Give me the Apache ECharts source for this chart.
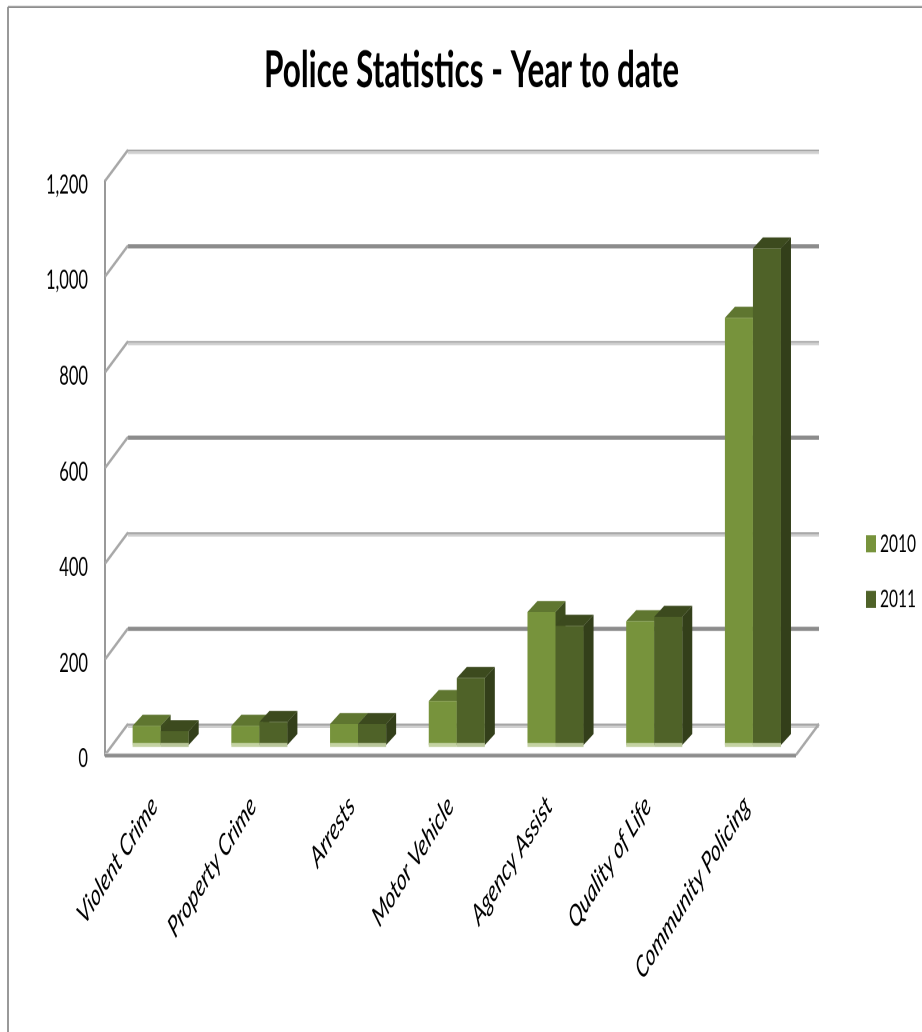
<!DOCTYPE html>
<html>
<head>
<meta charset="utf-8">
<style>
html,body{margin:0;padding:0;background:#fff;overflow:hidden;width:922px;height:1032px}
#c{width:922px;height:645px;transform:scaleY(1.6);transform-origin:0 0}
</style>
<script src="https://cdn.jsdelivr.net/npm/echarts@6/dist/echarts.min.js"></script>
</head>
<body>
<div id="c"></div>
<script>
const categories = ['Violent Crime','Property Crime','Arrests','Motor Vehicle','Agency Assist','Quality of Life','Community Policing'];
const values2010 = [40,40,44,92,278,259,893];
const values2011 = [29,48,44,140,249,268,1038];
const gridTicks = [0,200,400,600,800,1000,1200];
const K = 1.6;                 // vertical stretch of the picture
const sy = p => p / K;
const FONT = 'Lato';
const WALL_DX = 23, WALL_DY = sy(31);
const BAR_DX = 10, BAR_DY = sy(11), BAR_LIFT = sy(10);

const chart = echarts.init(document.getElementById('c'), null, {renderer:'canvas', devicePixelRatio:2});

function wallItem(params, api){
  const cs = params.coordSys;
  const v = api.value(0);
  const y = api.coord([0, v])[1];
  const x0 = cs.x, x1 = cs.x + cs.width;
  const dark = (v === 200 || v === 600 || v === 1000);
  const children = [
    {type:'line', shape:{x1:x0+WALL_DX, y1:y-WALL_DY+0.4, x2:x1+WALL_DX, y2:y-WALL_DY+0.4},
      style:{stroke:dark?'#8c8c8c':'#a6a6a6', lineWidth:dark?2.6:1.3}},
    {type:'line', shape:{x1:x0, y1:y, x2:x0+WALL_DX, y2:y-WALL_DY},
      style:{stroke:'#a8a8a8', lineWidth:2}}
  ];
  if(!dark){
    children.push({type:'line', shape:{x1:x0+WALL_DX, y1:y-WALL_DY+1.7, x2:x1+WALL_DX, y2:y-WALL_DY+1.7},
      style:{stroke:'#d0d0d0', lineWidth:1.5}});
  }
  if(v === 0){
    children.push({type:'line', shape:{x1:x1, y1:y, x2:x1+WALL_DX, y2:y-WALL_DY},
      style:{stroke:'#a8a8a8', lineWidth:2}});
    children.push({type:'line', shape:{x1:x0, y1:y-0.9, x2:x1, y2:y-0.9},
      style:{stroke:'#e0e0e0', lineWidth:0.8}});
    children.push({type:'line', shape:{x1:x0, y1:y+0.4, x2:x1, y2:y+0.4},
      style:{stroke:'#8c8c8c', lineWidth:2.2}});
  }
  return {type:'group', children};
}

function barRenderer(seriesSlot, front, top, side, glow){
  return function(params, api){
    const cat = api.value(0), val = api.value(1);
    const c0 = api.coord([cat, 0]), c1 = api.coord([cat, val]);
    const band = api.size([1,0])[0];
    const w = band * 0.284;
    const xl = c0[0] + 6.3 + (seriesSlot === 0 ? -w : 0);
    const xr = xl + w;
    const yb = c0[1] - BAR_LIFT, yt = c1[1] - BAR_LIFT;
    return {type:'group', children:[
      {type:'polygon', shape:{points:[[xr,yt],[xr+BAR_DX,yt-BAR_DY],[xr+BAR_DX,yb-BAR_DY],[xr,yb]]}, style:{fill:side}},
      {type:'polygon', shape:{points:[[xl,yt],[xl+BAR_DX,yt-BAR_DY],[xr+BAR_DX,yt-BAR_DY],[xr,yt]]}, style:{fill:top}},
      {type:'rect', shape:{x:xl, y:yt, width:w, height:yb-yt}, style:{fill:front}},
      {type:'rect', shape:{x:xl, y:yb-sy(2), width:w, height:sy(4)}, style:{fill:glow}}
    ]};
  };
}

chart.setOption({
  animation:false,
  backgroundColor:'#ffffff',
  title:{
    text:'Police Statistics - Year to date',
    left:259, top:sy(37),
    textStyle:{fontFamily:FONT, fontWeight:'bold', fontSize:31.5, color:'#000'}
  },
  legend:{
    orient:'vertical', left:866, top:sy(531), padding:0,
    data:['2010','2011'], icon:'rect',
    itemWidth:10, itemHeight:sy(17), itemGap:sy(30),
    textStyle:{fontFamily:FONT, fontSize:15.5, color:'#000', padding:[0,0,0,-1]}
  },
  grid:{left:105, right:126, top:sy(181), bottom:sy(1032-755), containLabel:false},
  xAxis:{
    type:'category', data:categories,
    axisLine:{show:false}, axisTick:{show:false},
    axisLabel:{rotate:45, interval:0, margin:sy(46), fontFamily:FONT, fontStyle:'italic', fontSize:18.5, color:'#000'}
  },
  yAxis:{
    type:'value', min:0, max:1200, interval:200,
    axisLine:{show:true, lineStyle:{color:'#999999', width:2}},
    axisTick:{show:false}, splitLine:{show:false},
    axisLabel:{margin:17, fontFamily:FONT, fontSize:16.5, color:'#000', verticalAlign:'top', padding:[-6,0,0,0],
      formatter:v => v.toLocaleString('en-US')}
  },
  series:[
    {type:'custom', name:'walls', silent:true, clip:false, renderItem:wallItem,
      encode:{y:0}, data:gridTicks.map(v=>[v]), z:1},
    {type:'custom', name:'2010', clip:false, itemStyle:{color:'#77933C'},
      renderItem:barRenderer(0,'#77933C','#5F7630','#3D4D1E','#C4D2A2'),
      encode:{x:0,y:1}, data:values2010.map((v,i)=>[i,v]), z:2},
    {type:'custom', name:'2011', clip:false, itemStyle:{color:'#4F6228'},
      renderItem:barRenderer(1,'#4F6228','#3C4A1E','#333F1A','#B9C69A'),
      encode:{x:0,y:1}, data:values2011.map((v,i)=>[i,v]), z:3}
  ],
  graphic:[
    {type:'line', shape:{x1:8,y1:sy(7),x2:922,y2:sy(7)}, style:{stroke:'#8e8e8e',lineWidth:1.3}},
    {type:'line', shape:{x1:8,y1:sy(7),x2:8,y2:sy(1032)}, style:{stroke:'#8e8e8e',lineWidth:1.8}}
  ]
});
</script>
</body>
</html>
